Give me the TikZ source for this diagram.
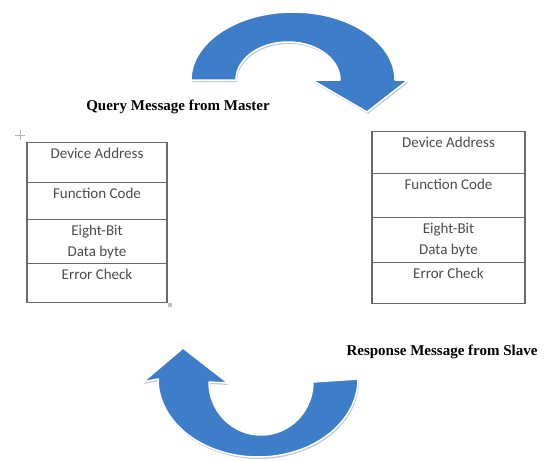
\documentclass[tikz,border=0pt]{standalone}
\usepackage{fontspec}
\setmainfont{Liberation Serif}
\newfontfamily\cellfont{Carlito}
\usetikzlibrary{positioning,shadows}
\definecolor{arrowblue}{RGB}{62,125,200}
\definecolor{gridgray}{RGB}{105,105,105}
\definecolor{textgray}{RGB}{75,75,75}
\tikzset{
  cell/.style={draw=gridgray, line width=1.1pt, anchor=north, inner sep=0pt},
  celltext/.style={font=\cellfont\fontsize{15}{21}\selectfont, text=textgray, align=center, anchor=north, inner sep=0pt},
  msglabel/.style={font=\fontsize{15}{18}\selectfont\bfseries},
  bentarrow/.style={fill=arrowblue, draw=white, line width=1.5pt, line join=round,
    drop shadow={shadow xshift=1pt, shadow yshift=-2pt, fill=black!35, opacity=.6}}
}
\begin{document}
\begin{tikzpicture}[x=1pt, y=-1pt]
    \useasboundingbox (0,0) rectangle (545,460);
    % query frame (master)
    \foreach \i/\t/\b/\txt in {1/142/182/Device Address, 2/182/219/Function Code,
      3/219/263/{Eight-Bit\\Data byte}, 4/263/302/Error Check}
    {
    \node[cell, minimum width=140, minimum height=\b-\t] (q\i) at (97,\t) {};
    \node[celltext, below=6pt of q\i.north] (qt\i) {\txt};
    }
    % response frame (slave)
    \foreach \i/\t/\b/\txt in {1/131/173/Device Address, 2/173/217/Function Code,
      3/217/262/{Eight-Bit\\Data byte}, 4/262/303/Error Check}
    {
    \node[cell, minimum width=153, minimum height=\b-\t] (r\i) at (448.5,\t) {};
    \node[celltext, below=6pt of r\i.north] (rt\i) {\txt};
    }
    \draw[black!30, line width=.6pt] (15,135) -- (25,135) (20,130) -- (20,140);
    \fill[black!25] (168,303) rectangle (172,307);
    \node[msglabel] (query) at (178,107) {Query Message from Master};
    \node[msglabel] (response) at (442,352) {Response Message from Slave};
    % curved arrows
    \path[bentarrow] (191,80) arc[start angle=180, end angle=360, x radius=102, y radius=68]
      -- (408,80) -- (367,112) -- (312,80) -- (340,80)
      arc[start angle=360, end angle=180, x radius=52, y radius=38] -- cycle;
    \path[bentarrow] (358,379) arc[start angle=0, end angle=180, x radius=100, y radius=78]
      -- (143,382) -- (183,348) -- (228,383) -- (209,382)
      arc[start angle=180, end angle=0, x radius=52, y radius=53] -- cycle;
  \end{tikzpicture}
\end{document}
